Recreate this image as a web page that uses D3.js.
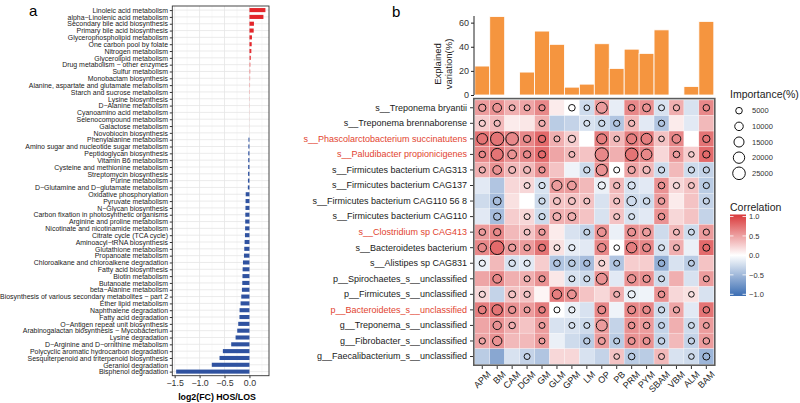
<!DOCTYPE html>
<html>
<head>
<meta charset="utf-8">
<script src="https://cdn.jsdelivr.net/npm/d3@7"></script>
<style>
  body { margin: 0; background: #fff; }
  svg { font-family: "Liberation Sans", Arial, sans-serif; display: block; }
</style>
</head>
<body>
<div id="chart"></div>
<script>
// ---- panel a data ----
var pathways = [
  "Linoleic acid metabolism", "alpha\u2212Linolenic acid metabolism", "Secondary bile acid biosynthesis",
  "Primary bile acid biosynthesis", "Glycerophospholipid metabolism", "One carbon pool by folate",
  "Nitrogen metabolism", "Glycerolipid metabolism", "Drug metabolism \u2212 other enzymes",
  "Sulfur metabolism", "Monobactam biosynthesis", "Alanine, aspartate and glutamate metabolism",
  "Starch and sucrose metabolism", "Lysine biosynthesis", "D\u2212Alanine metabolism",
  "Cyanoamino acid metabolism", "Selenocompound metabolism", "Galactose metabolism",
  "Novobiocin biosynthesis", "Phenylalanine metabolism", "Amino sugar and nucleotide sugar metabolism",
  "Peptidoglycan biosynthesis", "Vitamin B6 metabolism", "Cysteine and methionine metabolism",
  "Streptomycin biosynthesis", "Purine metabolism", "D\u2212Glutamine and D\u2212glutamate metabolism",
  "Oxidative phosphorylation", "Pyruvate metabolism", "N\u2212Glycan biosynthesis",
  "Carbon fixation in photosynthetic organisms", "Arginine and proline metabolism",
  "Nicotinate and nicotinamide metabolism", "Citrate cycle (TCA cycle)", "Aminoacyl\u2212tRNA biosynthesis",
  "Glutathione metabolism", "Propanoate metabolism", "Chloroalkane and chloroalkene degradation",
  "Fatty acid biosynthesis", "Biotin metabolism", "Butanoate metabolism", "beta\u2212Alanine metabolism",
  "Biosynthesis of various secondary metabolites \u2212 part 2", "Ether lipid metabolism",
  "Naphthalene degradation", "Fatty acid degradation", "O\u2212Antigen repeat unit biosynthesis",
  "Arabinogalactan biosynthesis \u2212 Mycobacterium", "Lysine degradation",
  "D\u2212Arginine and D\u2212ornithine metabolism", "Polycyclic aromatic hydrocarbon degradation",
  "Sesquiterpenoid and triterpenoid biosynthesis", "Geraniol degradation", "Bisphenol degradation"
];
var log2fc = [
  0.32, 0.28, 0.09, 0.085, 0.05, 0.045, 0.038, 0.03, 0.02, 0.017, 0.014, 0.012, 0.01, 0.008,
  0.006, 0.005, 0.004, 0.003, 0.002, -0.02, -0.022, -0.024, -0.025, -0.026, -0.028, -0.03,
  -0.032, -0.075, -0.078, -0.08, -0.083, -0.085, -0.087, -0.09, -0.097, -0.104, -0.11, -0.13,
  -0.137, -0.14, -0.144, -0.151, -0.164, -0.178, -0.198, -0.2, -0.225, -0.245, -0.278, -0.366,
  -0.533, -0.6, -0.755, -1.47
];
var fcTicks = [-1.5, -1.0, -0.5, 0.0];

// ---- panel b data ----
var traits = ["APM", "BM", "CAM", "DGM", "GM", "GLM", "GPM", "LM", "OP", "PB", "PRM", "PYM", "SBAM", "VBM", "ALM", "BAM"];
var explained = [24, 65, 0, 19, 53, 42, 6.5, 9, 42.5, 22, 38, 34.5, 54, 0, 7, 61];
var explainedTicks = [0, 20, 40, 60];

var taxa = [
  "s__Treponema bryantii", "s__Treponema brennaborense", "s__Phascolarctobacterium succinatutens",
  "s__Paludibacter propionicigenes", "s__Firmicutes bacterium CAG313", "s__Firmicutes bacterium CAG137",
  "s__Firmicutes bacterium CAG110 56 8", "s__Firmicutes bacterium CAG110", "s__Clostridium sp CAG413",
  "s__Bacteroidetes bacterium", "s__Alistipes sp CAG831", "p__Spirochaetes_s__unclassified",
  "p__Firmicutes_s__unclassified", "p__Bacteroidetes_s__unclassified", "g__Treponema_s__unclassified",
  "g__Fibrobacter_s__unclassified", "g__Faecalibacterium_s__unclassified"
];
var keyTaxa = [
  "s__Phascolarctobacterium succinatutens", "s__Paludibacter propionicigenes",
  "s__Clostridium sp CAG413", "p__Bacteroidetes_s__unclassified"
];

var corr = [
  [0.5, 0.55, 0.4, 0.45, 0.6, 0.1, 0.0, -0.25, 0.5, -0.12, 0.6, 0.55, -0.2, 0.4, -0.2, 0.6],
  [0.25, 0.35, 0.1, 0.12, 0.4, -0.35, -0.3, -0.2, -0.25, -0.4, 0.35, -0.15, -0.4, 0.1, -0.15, 0.35],
  [0.7, 0.7, 0.6, 0.6, 0.75, 0.4, 0.25, 0.0, 0.65, 0.35, 0.65, 0.65, 0.3, 0.6, 0.0, 0.7],
  [0.6, 0.7, 0.55, 0.6, 0.75, 0.45, 0.35, 0.3, 0.6, 0.4, 0.7, 0.6, 0.2, 0.5, 0.25, 0.75],
  [0.4, 0.55, 0.35, 0.35, 0.55, 0.3, -0.08, -0.25, 0.55, 0.0, 0.45, 0.35, -0.25, 0.35, -0.25, -0.3],
  [-0.15, -0.4, 0.2, 0.2, -0.2, 0.5, 0.5, 0.35, -0.1, 0.35, -0.2, -0.15, 0.55, 0.2, 0.3, -0.35],
  [-0.25, -0.45, 0.15, 0.0, -0.25, 0.3, 0.3, 0.3, -0.2, 0.3, -0.25, -0.25, 0.5, 0.1, 0.3, -0.3],
  [-0.15, -0.45, 0.25, 0.2, -0.25, 0.4, 0.4, 0.3, -0.2, 0.3, -0.2, -0.15, 0.55, 0.2, 0.3, -0.3],
  [0.5, 0.6, 0.35, 0.3, 0.5, 0.1, -0.2, -0.3, 0.55, -0.1, 0.55, 0.5, -0.25, 0.35, -0.25, 0.5],
  [0.6, 0.75, 0.5, 0.5, 0.7, 0.15, -0.12, -0.15, 0.6, 0.0, 0.65, 0.6, -0.2, 0.4, -0.1, 0.75],
  [-0.1, 0.35, -0.2, -0.15, 0.25, -0.4, -0.35, -0.45, 0.2, -0.4, 0.25, 0.25, -0.55, -0.2, -0.35, 0.3],
  [0.45, 0.6, 0.4, 0.4, 0.55, 0.12, -0.2, -0.25, 0.55, -0.15, 0.55, 0.55, -0.25, 0.4, -0.2, 0.5],
  [0.2, -0.3, 0.3, 0.3, 0.05, 0.65, 0.55, 0.3, 0.2, 0.4, -0.1, -0.08, 0.55, 0.2, 0.15, -0.2],
  [0.65, 0.7, 0.55, 0.5, 0.65, 0.0, -0.1, -0.2, 0.6, -0.08, 0.6, 0.6, -0.25, 0.45, -0.15, 0.7],
  [0.45, 0.55, 0.4, 0.3, 0.5, -0.2, -0.2, -0.25, 0.5, -0.3, 0.55, 0.5, -0.3, 0.4, -0.25, 0.5],
  [0.45, 0.55, 0.35, 0.35, 0.5, -0.1, -0.25, -0.35, 0.5, -0.35, 0.55, 0.55, -0.3, 0.35, -0.3, 0.5],
  [-0.35, -0.6, -0.2, -0.3, -0.4, 0.2, 0.2, -0.2, -0.3, 0.3, -0.35, -0.35, 0.35, -0.2, -0.25, -0.5]
];

// 0 = no circle drawn
var importance = [
  [6800, 10500, 3700, 3700, 4300, 0, 5000, 3000, 18400, 0, 5000, 8500, 3700, 4300, 0, 5000],
  [4300, 4300, 0, 0, 4300, 0, 0, 3700, 4300, 4300, 4300, 0, 4300, 0, 0, 0],
  [17200, 28300, 25000, 6800, 6800, 3700, 6800, 0, 14800, 2900, 14800, 18400, 2900, 10500, 0, 6800],
  [5000, 22400, 10500, 6800, 6800, 0, 3700, 0, 28000, 0, 25000, 17200, 0, 5000, 2900, 6800],
  [4300, 10500, 6000, 6000, 4300, 0, 0, 4300, 19000, 3700, 6800, 6800, 4300, 0, 4300, 4300],
  [0, 0, 0, 3700, 4300, 14800, 10500, 0, 6800, 4300, 6800, 0, 5000, 4300, 3700, 4300],
  [0, 8500, 0, 0, 4300, 6000, 6000, 3700, 0, 3700, 12600, 5000, 5000, 0, 0, 4300],
  [0, 6800, 0, 3700, 4300, 8500, 8500, 0, 0, 3700, 3700, 0, 5000, 0, 0, 0],
  [5000, 6800, 0, 3700, 4300, 0, 0, 3700, 10500, 0, 8500, 8500, 0, 3700, 3700, 4300],
  [9500, 30000, 6800, 4300, 6000, 3700, 4300, 0, 9500, 3000, 16000, 8500, 3700, 3700, 0, 6000],
  [4300, 0, 5000, 4300, 0, 5000, 5000, 4300, 3700, 3700, 0, 0, 5000, 0, 3700, 0],
  [0, 10500, 0, 3700, 4300, 0, 3700, 3700, 18400, 0, 9500, 6800, 3700, 0, 0, 3700],
  [4300, 0, 6000, 4300, 0, 12600, 10500, 0, 0, 3700, 6800, 0, 5000, 0, 3000, 0],
  [8500, 16000, 6800, 3700, 5000, 3700, 4300, 0, 8500, 0, 8500, 7500, 4300, 4300, 0, 5000],
  [0, 9500, 5000, 0, 3700, 0, 3700, 3700, 18400, 0, 5000, 5000, 3700, 0, 3700, 3700],
  [4300, 12600, 0, 0, 3700, 0, 0, 4300, 6000, 3700, 6000, 6000, 5000, 0, 4300, 5000],
  [0, 0, 0, 3700, 0, 0, 0, 0, 0, 3000, 5000, 0, 3700, 0, 3000, 6000]
];
var sizeBreaks = [5000, 10000, 15000, 20000, 25000];
var corrTicks = [1.0, 0.5, 0.0, -0.5, -1.0];

var svg = d3.select("#chart").append("svg")
  .attr("width", 800)
  .attr("height", 403);

svg.append("rect").attr("width", 800).attr("height", 403).attr("fill", "#fff");

// ================= panel a =================
var aLeft = 172.3, aRight = 269, aTop = 6, aBottom = 375.7;

var xFc = d3.scaleLinear().domain([-1.547, 0.392]).range([aLeft, aRight]);
var yPath = d3.scalePoint().domain(pathways).range([aTop, aBottom]).padding(0.6);

var fcColor = function(v) {
  if (v < 0) return "#2f52a0";
  return d3.scaleLinear().domain([0, 0.04]).range(["#f7c8c8", "#e3262b"]).clamp(true)(v);
};

var gA = svg.append("g");

// grid
gA.selectAll("line.minor")
  .data([-1.25, -0.75, -0.25, 0.25])
  .enter().append("line")
  .attr("x1", d => xFc(d)).attr("x2", d => xFc(d))
  .attr("y1", aTop).attr("y2", aBottom)
  .attr("stroke", "#f0f0f0").attr("stroke-width", 0.5);

gA.selectAll("line.major")
  .data(fcTicks)
  .enter().append("line")
  .attr("x1", d => xFc(d)).attr("x2", d => xFc(d))
  .attr("y1", aTop).attr("y2", aBottom)
  .attr("stroke", "#e6e6e6").attr("stroke-width", 0.8);

gA.selectAll("line.hgrid")
  .data(pathways)
  .enter().append("line")
  .attr("x1", aLeft).attr("x2", aRight)
  .attr("y1", d => yPath(d)).attr("y2", d => yPath(d))
  .attr("stroke", "#e6e6e6").attr("stroke-width", 0.8);

// bars
var barH = yPath.step() * 0.6;
gA.selectAll("rect.fc")
  .data(pathways)
  .enter().append("rect")
  .attr("x", (d, i) => Math.min(xFc(0), xFc(log2fc[i])))
  .attr("width", (d, i) => Math.abs(xFc(log2fc[i]) - xFc(0)))
  .attr("y", d => yPath(d) - barH / 2)
  .attr("height", barH)
  .attr("fill", (d, i) => fcColor(log2fc[i]));

// border
gA.append("rect")
  .attr("x", aLeft).attr("y", aTop)
  .attr("width", aRight - aLeft).attr("height", aBottom - aTop)
  .attr("fill", "none").attr("stroke", "#333").attr("stroke-width", 0.9);

// axes
var axisLeftA = gA.append("g")
  .attr("transform", `translate(${aLeft},0)`)
  .call(d3.axisLeft(yPath).tickSize(2.5).tickPadding(1.8));
axisLeftA.select(".domain").remove();
axisLeftA.selectAll("line").attr("stroke", "#333");
axisLeftA.selectAll("text").attr("font-size", 6.95).attr("fill", "#1a1a1a")
  .attr("font-family", "Liberation Sans, Arial, sans-serif");

var axisBottomA = gA.append("g")
  .attr("transform", `translate(0,${aBottom})`)
  .call(d3.axisBottom(xFc).tickValues(fcTicks).tickFormat(d3.format(".1f")).tickSize(2.5).tickPadding(2));
axisBottomA.select(".domain").remove();
axisBottomA.selectAll("line").attr("stroke", "#333");
axisBottomA.selectAll("text").attr("font-size", 8.8).attr("fill", "#333")
  .attr("font-family", "Liberation Sans, Arial, sans-serif")
  .text(d => d3.format(".1f")(d).replace("-", "\u2212"));

gA.append("text")
  .attr("x", 217).attr("y", 399.5)
  .attr("text-anchor", "middle")
  .attr("font-size", 8.8).attr("font-weight", "bold")
  .text("log2(FC) HOS/LOS");

svg.append("text").attr("x", 29).attr("y", 16).attr("font-size", 15).text("a");
svg.append("text").attr("x", 392).attr("y", 17).attr("font-size", 15).text("b");

// ================= panel b =================
var hLeft = 474.8, hRight = 713.8, hTop = 100, hBottom = 364.3;

var xTrait = d3.scaleBand().domain(traits).range([hLeft, hRight]);
var yTaxa = d3.scaleBand().domain(taxa).range([hTop, hBottom]);
var corrColor = d3.scaleLinear().domain([-1, 0, 1]).range(["#3b6db3", "#ffffff", "#d9383a"]);
var rScale = d3.scaleRadial().domain([5000, 25000]).range([3.3, 6.3]);

// explained variation bars
var yExp = d3.scaleLinear().domain([0, 65.5]).range([95, 16]);
var gBar = svg.append("g");

gBar.selectAll("rect")
  .data(traits)
  .enter().append("rect")
  .attr("x", d => xTrait(d))
  .attr("width", xTrait.bandwidth())
  .attr("y", (d, i) => yExp(explained[i]))
  .attr("height", (d, i) => yExp(0) - yExp(explained[i]))
  .attr("fill", "#f5953f")
  .attr("stroke", "#fff").attr("stroke-width", 0.8);

var axisExp = gBar.append("g")
  .attr("transform", "translate(474,0)")
  .call(d3.axisLeft(yExp).tickValues(explainedTicks).tickSize(3).tickPadding(2));
axisExp.select(".domain").attr("stroke", "#222").attr("d", "M0,95V16");
axisExp.selectAll("line").attr("stroke", "#222");
axisExp.selectAll("text").attr("font-size", 9).attr("fill", "#333")
  .attr("font-family", "Liberation Sans, Arial, sans-serif");

gBar.append("text")
  .attr("transform", "translate(440.5,64) rotate(-90)")
  .attr("text-anchor", "middle").attr("font-size", 9.5).attr("fill", "#222")
  .text("Explained");
gBar.append("text")
  .attr("transform", "translate(451.5,64) rotate(-90)")
  .attr("text-anchor", "middle").attr("font-size", 9.5).attr("fill", "#222")
  .text("variation(%)");

// heatmap cells
var cells = [];
taxa.forEach(function(t, i) {
  traits.forEach(function(c, j) {
    cells.push({ taxon: t, trait: c, r: corr[i][j], imp: importance[i][j] });
  });
});

var gHeat = svg.append("g");

gHeat.selectAll("rect.cell")
  .data(cells)
  .enter().append("rect")
  .attr("x", d => xTrait(d.trait))
  .attr("y", d => yTaxa(d.taxon))
  .attr("width", xTrait.bandwidth())
  .attr("height", yTaxa.bandwidth())
  .attr("fill", d => corrColor(d.r))
  .attr("stroke", "#ffffff").attr("stroke-opacity", 0.5).attr("stroke-width", 0.5);

gHeat.selectAll("circle")
  .data(cells.filter(d => d.imp > 0))
  .enter().append("circle")
  .attr("cx", d => xTrait(d.trait) + xTrait.bandwidth() / 2)
  .attr("cy", d => yTaxa(d.taxon) + yTaxa.bandwidth() / 2)
  .attr("r", d => rScale(d.imp))
  .attr("fill", "none")
  .attr("stroke", "#111").attr("stroke-width", 1);

gHeat.append("rect")
  .attr("x", 473.8).attr("y", 98.6)
  .attr("width", 241).attr("height", 266.6)
  .attr("fill", "none").attr("stroke", "#5c5c5c").attr("stroke-width", 1.6);

var axisTaxa = gHeat.append("g")
  .attr("transform", "translate(473,0)")
  .call(d3.axisLeft(yTaxa).tickSize(3).tickPadding(3));
axisTaxa.select(".domain").remove();
axisTaxa.selectAll("line").attr("stroke", "#333");
axisTaxa.selectAll("text")
  .attr("font-size", 9)
  .attr("font-family", "Liberation Sans, Arial, sans-serif")
  .attr("fill", d => keyTaxa.indexOf(d) >= 0 ? "#e2432f" : "#1a1a1a");

var axisTrait = gHeat.append("g")
  .attr("transform", "translate(0,366)")
  .call(d3.axisBottom(xTrait).tickSize(3).tickPadding(2));
axisTrait.select(".domain").remove();
axisTrait.selectAll("line").attr("stroke", "#333");
axisTrait.selectAll("text")
  .attr("font-size", 9)
  .attr("font-family", "Liberation Sans, Arial, sans-serif")
  .attr("fill", "#1a1a1a")
  .attr("text-anchor", "end")
  .attr("transform", "translate(3,3) rotate(-45)")
  .attr("dy", "0.5em")
  .attr("y", 4);

// ---- legends ----
var gLeg = svg.append("g");

gLeg.append("text").attr("x", 730).attr("y", 98).attr("font-size", 10.5).attr("fill", "#222")
  .text("Importance(%)");

var legY = d3.scalePoint().domain(sizeBreaks).range([110.7, 173.3]);
gLeg.selectAll("circle")
  .data(sizeBreaks)
  .enter().append("circle")
  .attr("cx", 739).attr("cy", d => legY(d))
  .attr("r", d => rScale(d))
  .attr("fill", "none").attr("stroke", "#111").attr("stroke-width", 1);
gLeg.selectAll("text.size")
  .data(sizeBreaks)
  .enter().append("text")
  .attr("x", 752).attr("y", d => legY(d) + 2.7)
  .attr("font-size", 7.5).attr("fill", "#333")
  .text(d => d);

gLeg.append("text").attr("x", 730).attr("y", 211).attr("font-size", 10.5).attr("fill", "#222")
  .text("Correlation");

var barScale = d3.scaleLinear().domain([-1, 1]).range([294.3, 216.5]);
var grad = svg.append("defs").append("linearGradient")
  .attr("id", "corrGrad").attr("x1", 0).attr("y1", 1).attr("x2", 0).attr("y2", 0);
d3.range(-1, 1.0001, 0.25).forEach(function(v) {
  grad.append("stop").attr("offset", (v + 1) / 2).attr("stop-color", corrColor(v));
});
gLeg.append("rect")
  .attr("x", 730).attr("y", 214.5).attr("width", 16).attr("height", 81.5)
  .attr("fill", "url(#corrGrad)");
gLeg.selectAll("line.ctick")
  .data(corrTicks)
  .enter().append("g")
  .each(function(d) {
    var g = d3.select(this);
    g.append("line").attr("x1", 730).attr("x2", 733.5)
      .attr("y1", barScale(d)).attr("y2", barScale(d)).attr("stroke", "#fff").attr("stroke-width", 0.8);
    g.append("line").attr("x1", 742.5).attr("x2", 746)
      .attr("y1", barScale(d)).attr("y2", barScale(d)).attr("stroke", "#fff").attr("stroke-width", 0.8);
  });
gLeg.selectAll("text.ctick")
  .data(corrTicks)
  .enter().append("text")
  .attr("x", 749).attr("y", d => barScale(d) + 2.7)
  .attr("font-size", 7.5).attr("fill", "#333")
  .text(d => d3.format(".1f")(d).replace("-", "\u2212"));
</script>
</body>
</html>
